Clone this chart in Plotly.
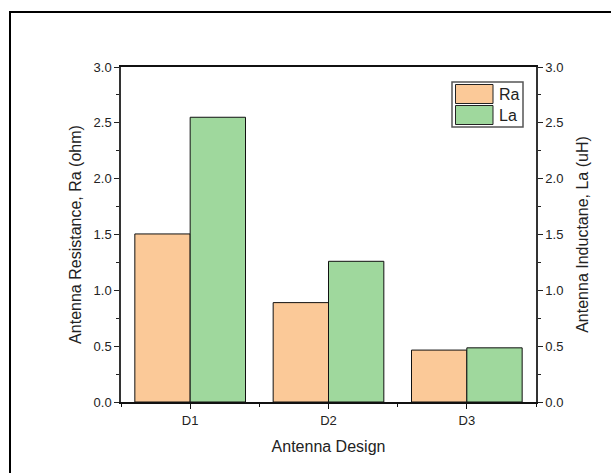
import plotly.graph_objects as go

categories = ["D1", "D2", "D3"]
ra_values = [1.505, 0.89, 0.465]
la_values = [2.55, 1.26, 0.485]
y_ticks = [0.0, 0.5, 1.0, 1.5, 2.0, 2.5, 3.0]
series_names = ["Ra", "La"]
series_colors = ["#FBC998", "#9FD89D"]

xpos = list(range(len(categories)))
FONT = "Liberation Sans, Arial, sans-serif"

W, H = 611, 473
L, T = 121, 67
PW, PH = 415, 335
R, B = W - L - PW, H - T - PH


def px(x):
    return (x - L) / PW


def py(y):
    return (T + PH - y) / PH


fig = go.Figure()
fig.add_trace(go.Bar(
    x=xpos, y=ra_values, name=series_names[0], width=0.4, offset=-0.4,
    marker=dict(color=series_colors[0], line=dict(color="#111111", width=1)),
    yaxis="y",
))
fig.add_trace(go.Bar(
    x=xpos, y=la_values, name=series_names[1], width=0.4, offset=0.0,
    marker=dict(color=series_colors[1], line=dict(color="#111111", width=1)),
    yaxis="y2",
))

axis_common = dict(
    range=[0, 3], tickvals=y_ticks, ticktext=[f"{v:.1f}" for v in y_ticks],
    ticks="outside", ticklen=5, tickwidth=1, tickcolor="#222",
    showline=True, linecolor="#333", linewidth=1.5,
    showgrid=False, zeroline=False, automargin=False,
    tickfont=dict(family=FONT, size=13, color="#222"),
    minor=dict(tickvals=[0.25, 0.75, 1.25, 1.75, 2.25, 2.75], ticks="outside",
               ticklen=3, tickcolor="#222", showgrid=False),
)

# outer frame: only top and left edges are visible in the reference
shapes = [
    dict(type="line", xref="paper", yref="paper",
         x0=px(9), y0=py(12), x1=px(700), y1=py(12),
         line=dict(color="black", width=2), layer="above"),
    dict(type="line", xref="paper", yref="paper",
         x0=px(10), y0=py(11), x1=px(10), y1=py(600),
         line=dict(color="black", width=2), layer="above"),
]
# custom legend box
shapes.append(dict(
    type="rect", xref="paper", yref="paper",
    x0=px(452), y0=py(127), x1=px(523), y1=py(82),
    line=dict(color="#555", width=1.5), fillcolor="white", layer="above",
))
annotations = []
for i, (name, col) in enumerate(zip(series_names, series_colors)):
    top = 84.5 + i * 21
    shapes.append(dict(
        type="rect", xref="paper", yref="paper",
        x0=px(455.5), y0=py(top + 19), x1=px(493), y1=py(top),
        line=dict(color="#222", width=1), fillcolor=col, layer="above",
    ))
    annotations.append(dict(
        x=px(497), y=py(top + 9.5), xref="paper", yref="paper",
        text=name, showarrow=False, xanchor="left", yanchor="middle",
        font=dict(family=FONT, size=16, color="#222"),
    ))

fig.update_layout(
    width=W, height=H,
    margin=dict(l=L, r=R, t=T, b=B, autoexpand=False),
    paper_bgcolor="white", plot_bgcolor="white",
    font=dict(family=FONT, color="#222"),
    barmode="overlay",
    showlegend=False,
    xaxis=dict(
        range=[-0.5, 2.5], tickvals=xpos, ticktext=categories,
        ticks="outside", ticklen=5, tickwidth=1, tickcolor="#111",
        showline=True, linecolor="#111", linewidth=2, mirror=True,
        showgrid=False, zeroline=False, automargin=False,
        tickfont=dict(family=FONT, size=13, color="#222"),
        minor=dict(tickvals=[-0.5, 0.5, 1.5, 2.5], ticks="outside",
                   ticklen=3, tickcolor="#111", showgrid=False),
        title=dict(text="Antenna Design", font=dict(family=FONT, size=16, color="#222"),
                   standoff=14),
    ),
    yaxis=dict(
        **axis_common,
        title=dict(text="Antenna Resistance, Ra (ohm)",
                   font=dict(family=FONT, size=16, color="#222"), standoff=8),
    ),
    yaxis2=dict(
        **axis_common, overlaying="y", side="right",
        title=dict(text="Antenna Inductane, La (uH)",
                   font=dict(family=FONT, size=16, color="#222"), standoff=14),
    ),
    shapes=shapes,
    annotations=annotations,
)

fig.write_html(
    "out.html",
    config={"displayModeBar": False},
    post_script="document.body.style.margin='0';document.body.style.overflow='hidden';",
)
